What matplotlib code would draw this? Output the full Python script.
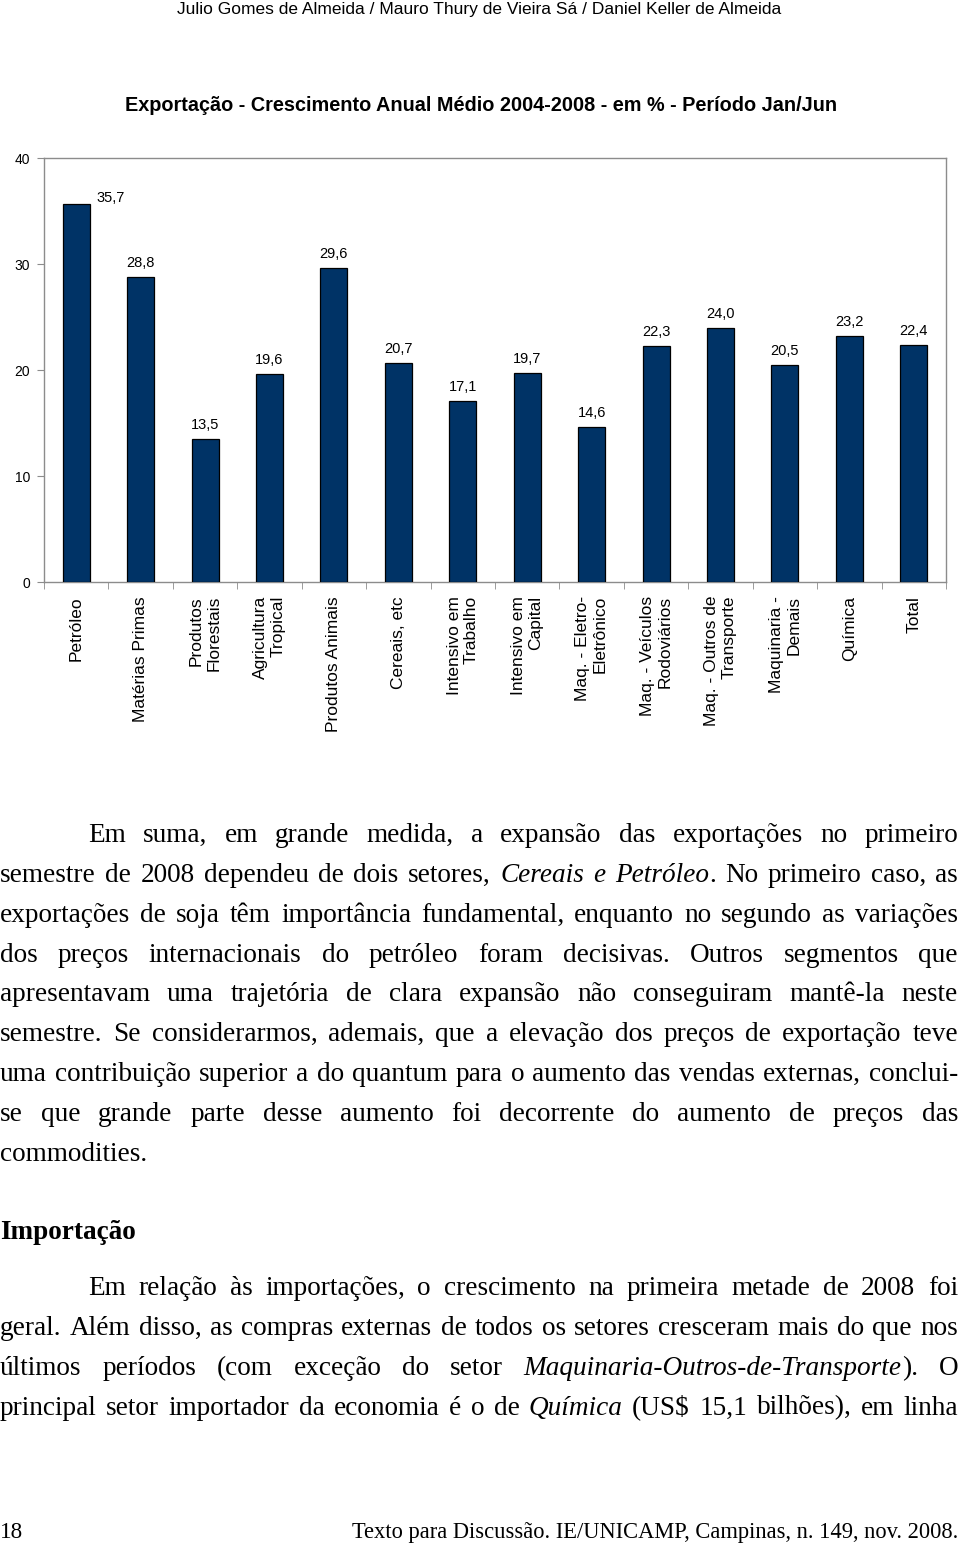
import matplotlib
matplotlib.use('Agg')
import matplotlib.pyplot as plt
from matplotlib import font_manager

W, H = 960, 1547

CATEGORIES = [
    'Petróleo', 'Matérias Primas', 'Produtos\nFlorestais', 'Agricultura\nTropical',
    'Produtos Animais', 'Cereais, etc', 'Intensivo em\nTrabalho', 'Intensivo em\nCapital',
    'Maq. - Eletro-\nEletrônico', 'Maq. - Veículos\nRodoviários', 'Maq. - Outros de\nTransporte',
    'Maquinaria -\nDemais', 'Química', 'Total',
]
VALUES = [35.7, 28.8, 13.5, 19.6, 29.6, 20.7, 17.1, 19.7, 14.6, 22.3, 24.0, 20.5, 23.2, 22.4]
Y_TICKS = [0, 10, 20, 30, 40]

HEADER = 'Julio Gomes de Almeida / Mauro Thury de Vieira Sá / Daniel Keller de Almeida'
TITLE = 'Exportação - Crescimento Anual Médio 2004-2008 - em % - Período Jan/Jun'

# '*' toggles italic
PARA_1 = [
    'Em suma, em grande medida, a expansão das exportações no primeiro',
    'semestre de 2008 dependeu de dois setores, *Cereais e Petróleo*. No primeiro caso, as',
    'exportações de soja têm importância fundamental, enquanto no segundo as variações',
    'dos preços internacionais do petróleo foram decisivas. Outros segmentos que',
    'apresentavam uma trajetória de clara expansão não conseguiram mantê-la neste',
    'semestre. Se considerarmos, ademais, que a elevação dos preços de exportação teve',
    'uma contribuição superior a do quantum para o aumento das vendas externas, conclui-',
    'se que grande parte desse aumento foi decorrente do aumento de preços das',
    'commodities.',
]
SECTION = 'Importação'
PARA_2 = [
    'Em relação às importações, o crescimento na primeira metade de 2008 foi',
    'geral. Além disso, as compras externas de todos os setores cresceram mais do que nos',
    'últimos períodos (com exceção do setor *Maquinaria-Outros-de-Transporte*). O',
    'principal setor importador da economia é o de *Química* (US$ 15,1 bilhões), em linha',
]
PAGE_NO = '18'
FOOTER = 'Texto para Discussão. IE/UNICAMP, Campinas, n. 149, nov. 2008.'

names = {f.name for f in font_manager.fontManager.ttflist}
NARROW = 'Liberation Sans Narrow' if 'Liberation Sans Narrow' in names else 'Liberation Sans'
SANS = 'Liberation Sans'
SERIF = 'Liberation Serif'

BAR_COLOR = '#003366'
GRID_GRAY = '#8c8c8c'

fig = plt.figure(figsize=(W / 100, H / 100), dpi=100)
renderer = fig.canvas.get_renderer()


def fx(px):
    return px / W


def fy(py):
    return 1 - py / H


def fit(t, width):
    w = t.get_window_extent(renderer).width
    t.set_fontsize(t.get_fontsize() * width / w)


# ---- chart ----
ax = fig.add_axes([fx(44), fy(582), fx(946) - fx(44), fy(158) - fy(582)])
x = list(range(len(VALUES)))
ax.bar(x, VALUES, width=0.42, color=BAR_COLOR, edgecolor='black', linewidth=0.9, zorder=3)
ax.set_xlim(-0.5, len(VALUES) - 0.5)
ax.set_ylim(0, 40)
ax.set_yticks(Y_TICKS)
ax.set_yticklabels([str(v) for v in Y_TICKS], fontsize=10, family=SANS)
ax.set_xticks(x)
ax.set_xticklabels(CATEGORIES, rotation=90, fontsize=12.5, family=SANS, va='top', ha='center')
for lab in ax.get_xticklabels():
    lab.set_multialignment('right')
ax.set_xticks([i - 0.5 for i in range(len(VALUES) + 1)], minor=True)
ax.tick_params(axis='x', which='major', length=0, pad=10)
ax.tick_params(axis='x', which='minor', length=5, direction='out', color=GRID_GRAY)
ax.tick_params(axis='y', length=5, direction='out', color=GRID_GRAY, pad=5)
for sp in ax.spines.values():
    sp.set_color(GRID_GRAY)
    sp.set_linewidth(1.0)

for i, v in enumerate(VALUES):
    txt = f'{v:.1f}'.replace('.', ',')
    off = (34, 6) if i == 0 else (0, 14)
    ax.annotate(txt, (i, v), xytext=off, textcoords='offset pixels',
                ha='center', va='center', fontsize=10.5, family=SANS)

# ---- header / title ----
t = fig.text(fx(479), fy(14), HEADER, ha='center', va='baseline', family=NARROW, fontsize=12)
fit(t, 607)
t = fig.text(fx(481), fy(111), TITLE, ha='center', va='baseline', family=NARROW,
             fontsize=14, weight='bold')
fit(t, 713)

# ---- body text ----
probe = fig.text(0, 0, 'commodities.', family=SERIF, fontsize=19)
fit(probe, 148)
BODY_SIZE = probe.get_fontsize()
probe.remove()


def parse(line):
    words = []
    italic = False
    for raw in line.split(' '):
        segs = []
        buf = ''
        for ch in raw:
            if ch == '*':
                if buf:
                    segs.append((buf, italic))
                buf = ''
                italic = not italic
            else:
                buf += ch
        if buf:
            segs.append((buf, italic))
        words.append(segs)
    return words


def draw_line(line, baseline, left, right, justify):
    words = parse(line)
    objs = []
    widths = []
    for segs in words:
        wo = []
        ww = 0
        for s, it in segs:
            tt = fig.text(0, fy(baseline), s, family=SERIF, fontsize=BODY_SIZE,
                          style='italic' if it else 'normal', va='baseline', ha='left')
            w = tt.get_window_extent(renderer).width
            wo.append((tt, w))
            ww += w
        objs.append(wo)
        widths.append(ww)
    sp = fig.text(0, 0, 'a a', family=SERIF, fontsize=BODY_SIZE)
    spw = sp.get_window_extent(renderer).width
    sp.set_text('aa')
    spw -= sp.get_window_extent(renderer).width
    sp.remove()
    if justify and len(words) > 1:
        gap = (right - left - sum(widths)) / (len(words) - 1)
    else:
        gap = spw
    xpos = left
    for wo, ww in zip(objs, widths):
        xx = xpos
        for tt, w in wo:
            tt.set_x(fx(xx))
            xx += w
        xpos += ww + gap


LINE_STEP = 39.85
for i, line in enumerate(PARA_1):
    left = 88 if i == 0 else 0
    draw_line(line, 842 + i * LINE_STEP, left, 958, i < len(PARA_1) - 1)

sec = fig.text(0, fy(1239), SECTION, family=SERIF, fontsize=BODY_SIZE, weight='bold',
               va='baseline', ha='left')

for i, line in enumerate(PARA_2):
    left = 88 if i == 0 else 0
    draw_line(line, 1295 + i * LINE_STEP, left, 958, True)

# ---- footer ----
fig.text(0, fy(1538), PAGE_NO, family=SERIF, fontsize=BODY_SIZE * 0.85, va='baseline', ha='left')
t = fig.text(fx(958), fy(1538), FOOTER, family=SERIF, fontsize=BODY_SIZE * 0.85,
             va='baseline', ha='right')
fit(t, 608)

fig.savefig('out.png', dpi=100, facecolor='white')
